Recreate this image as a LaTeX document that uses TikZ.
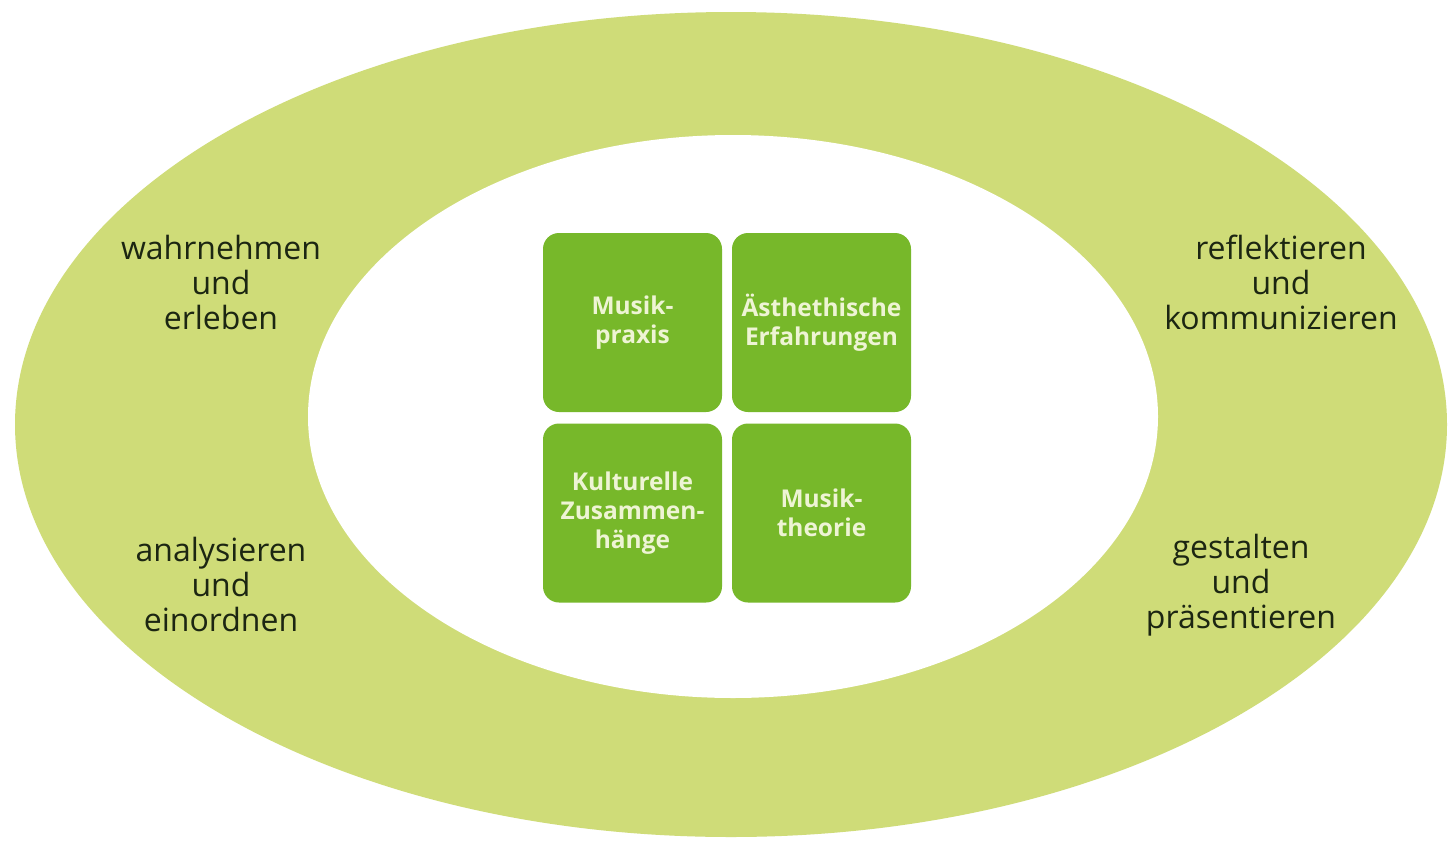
\documentclass[tikz,border=0pt]{standalone}
\usepackage{fontspec}
\setmainfont{Open Sans}
\definecolor{ringgreen}{HTML}{CFDC78}
\definecolor{boxgreen}{HTML}{77B82A}
\definecolor{boxtext}{HTML}{EEF4D4}
\definecolor{darktext}{HTML}{1C2612}
\begin{document}
\begin{tikzpicture}[x=1pt,y=-1pt,
  box/.style={rectangle, rounded corners=16pt, fill=boxgreen, minimum width=179pt, minimum height=179pt, inner sep=0pt, align=center, text=boxtext, font=\fontsize{24.5}{29}\selectfont\bfseries},
  ringlabel/.style={align=center, text=darktext, font=\fontsize{32}{35}\selectfont, inner sep=0pt}]
\useasboundingbox (0,0) rectangle (1448,841);
\fill[white] (0,0) rectangle (1448,841);
\fill[ringgreen] (731,424.5) ellipse [x radius=716, y radius=412.5];
\fill[white] (733,416.5) ellipse [x radius=425, y radius=281.5];
\node[box] (praxis) at (632.5,322.5) {Musik-\\praxis};
\node[box] (aesth) at (821.5,322.5) {Ästhethische\\Erfahrungen};
\node[box] (kultur) at (632.5,513) {Kulturelle\\Zusammen-\\hänge};
\node[box] (theorie) at (821.5,513) {Musik-\\theorie};
\node[ringlabel] (wahr) at (221,282) {wahrnehmen\\und\\erleben};
\node[ringlabel] (anal) at (221,584) {analysieren\\und\\einordnen};
\node[ringlabel] (refl) at (1281,282) {reflektieren\\und\\kommunizieren};
\node[ringlabel] (gest) at (1241,585) {gestalten\\und\\präsentieren};
\end{tikzpicture}
\end{document}
